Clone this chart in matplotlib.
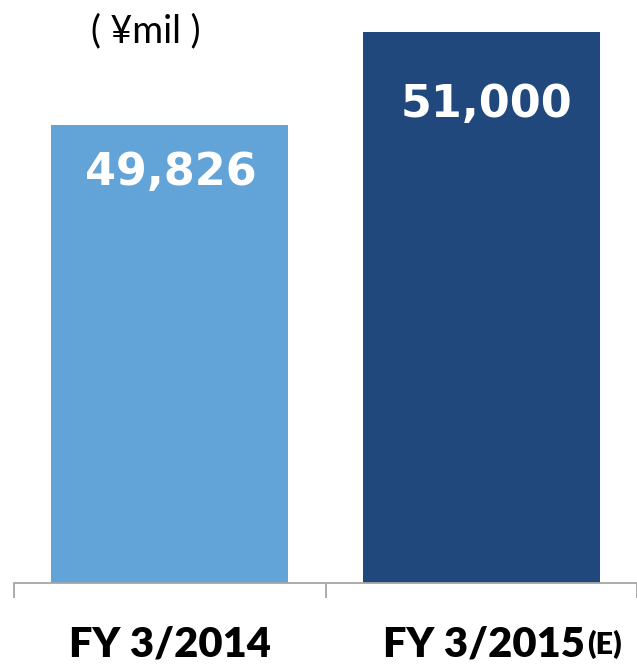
import matplotlib.pyplot as plt

# data
categories = ['FY 3/2014', 'FY 3/2015']
values = [49826, 51000]
value_labels = ['49,826', '51,000']
bar_colors = ['#62A3D8', '#20487C']

fig = plt.figure(figsize=(6.37, 6.65), dpi=100)
# axes spans from the left tick to the right edge, baseline at y=583px
ax = fig.add_axes([14/637, 82/665, 623/637, 583/665])

x = list(range(len(categories)))
bars = ax.bar(x, values, width=0.76, color=bar_colors, zorder=2)
ax.set_xlim(-0.5, 1.5)
ax.set_ylim(44044, 51405)

# value labels inside the bars
offsets = [(1, -47), (5, -72)]
for b, lab, off in zip(bars, value_labels, offsets):
    ax.annotate(lab, (b.get_x() + b.get_width()/2, b.get_height()),
                xytext=(off[0]*0.72, off[1]*0.72), textcoords='offset points',
                ha='center', va='center', color='white',
                fontsize=32, fontweight='bold', family='DejaVu Sans')

for s in ['top', 'right', 'left']:
    ax.spines[s].set_visible(False)
ax.spines['bottom'].set_color('#A6A6A6')
ax.spines['bottom'].set_linewidth(1.3)
ax.set_yticks([])
ax.set_xticks([-0.5, 0.5, 1.5])
ax.set_xticklabels([])
ax.tick_params(axis='x', length=11, width=1.3, color='#A6A6A6', direction='out')

# category labels
ax.text(0, -0.105, categories[0], transform=ax.get_xaxis_transform(),
        ha='center', va='center', fontsize=30, fontweight='heavy', family='Lato')
t = ax.text(1.01, -0.105, categories[1], transform=ax.get_xaxis_transform(),
            ha='center', va='center', fontsize=30, fontweight='heavy', family='Lato')
ax.annotate('(E)', (1.0, 0), xycoords=t, xytext=(1, 3), textcoords='offset points',
            ha='left', va='bottom', fontsize=22, fontweight='heavy', family='Lato')

fig.text(146/637, 1 - 31/665, '( \u00a5mil )', ha='center', va='center',
         fontsize=27, family='Lato')

fig.savefig('out.png', dpi=100)
